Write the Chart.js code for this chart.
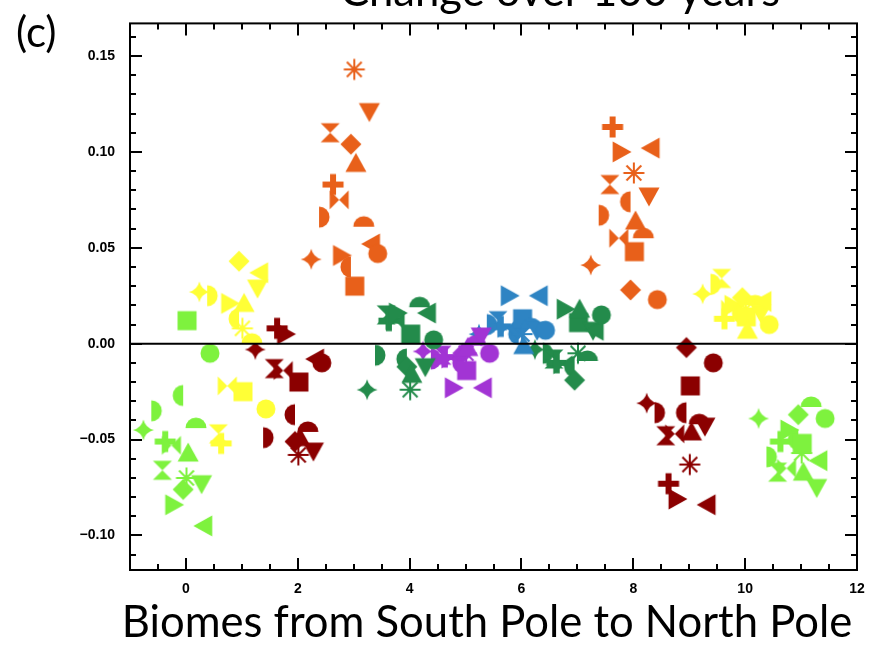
<!DOCTYPE html>
<html><head><meta charset="utf-8">
<script src="https://cdn.jsdelivr.net/npm/chart.js@4.4.1/dist/chart.umd.min.js"></script>
<style>html,body{margin:0;padding:0;background:#fff;}#wrap{width:877px;height:645px;position:relative;}</style>
</head><body><div id="wrap"><canvas id="c" width="877" height="645"></canvas></div>
<script>
// ---- data ----
const biomes = [0, 1, 2, 3, 4, 5, 6, 7, 8, 9, 10, 11];
const models = ['star4','rightHalf','hourglass','plus','bowtie','triRight','leftHalf','diamond','asterisk','square','triUp','topHalf','triDown','triLeft','circle'];
const modelOffsets = [-0.76,-0.62,-0.42,-0.37,-0.26,-0.22,-0.05,-0.05,0.01,0.02,0.04,0.18,0.28,0.32,0.43];
// values per biome, in the order of `models`
const biome0  = [-0.045,-0.035,-0.066,-0.051,-0.053,-0.084,-0.027,-0.076,-0.070, 0.012,-0.057,-0.044,-0.073,-0.095,-0.005];
const biome1  = [ 0.027, 0.025,-0.047,-0.052,-0.022, 0.021, 0.013, 0.043, 0.008,-0.025, 0.021, 0.000, 0.029, 0.037,-0.034];
const biome2  = [-0.003,-0.049,-0.013, 0.008,-0.014, 0.005,-0.037,-0.051,-0.058,-0.020,-0.049,-0.046,-0.056,-0.008,-0.010];
const biome3  = [ 0.044, 0.066, 0.110, 0.083, 0.075, 0.046, 0.040, 0.104, 0.143, 0.030, 0.094, 0.061, 0.121, 0.052, 0.047];
const biome4  = [-0.024,-0.006, 0.015, 0.012, 0.012, 0.016,-0.008,-0.012,-0.024, 0.005,-0.016, 0.019,-0.012, 0.016, 0.002];
const biome5  = [-0.004,-0.008,-0.006,-0.007,-0.008,-0.023,-0.010,-0.005,-0.005,-0.014,-0.002,-0.001, 0.004,-0.023,-0.005];
const biome6  = [ 0.005, 0.010, 0.012, 0.009, 0.008, 0.025, 0.005, 0.008, 0.005, 0.013,-0.001, 0.008, 0.007, 0.025, 0.007];
const biome7  = [-0.003,-0.005,-0.008,-0.010,-0.011, 0.018,-0.012,-0.019,-0.005, 0.011, 0.018,-0.009, 0.007, 0.007, 0.015];
const biome8  = [ 0.041, 0.067, 0.083, 0.113, 0.055, 0.100, 0.074, 0.028, 0.089, 0.048, 0.064, 0.055, 0.077, 0.102, 0.023];
const biome9  = [-0.031,-0.036,-0.048,-0.073,-0.047,-0.081,-0.036,-0.002,-0.063,-0.022,-0.046,-0.042,-0.043,-0.084,-0.010];
const biome10 = [ 0.026, 0.031, 0.034, 0.013, 0.018, 0.020, 0.016, 0.024, 0.018, 0.014, 0.007, 0.020, 0.016, 0.022, 0.010];
const biome11 = [-0.039,-0.059,-0.067,-0.051,-0.065,-0.045,-0.050,-0.037,-0.057,-0.052,-0.067,-0.033,-0.075,-0.061,-0.039];
const biomeValues = [biome0,biome1,biome2,biome3,biome4,biome5,biome6,biome7,biome8,biome9,biome10,biome11];
const xTickValues = [0, 2, 4, 6, 8, 10, 12];
const yTickValues = [-0.10, -0.05, 0.00, 0.05, 0.10, 0.15];
const chartTitle = 'Change over 100 years';
const panelLabel = '(c)';
const xTitle = 'Biomes from South Pole to North Pole';

// ---- styles ----
const LG='#7EF23E', YE='#FFFF36', DR='#8B0000', OR='#E8601A', GR='#238B4B', PU='#A234D4', BL='#2E84C3';
const biomeColors = [LG, YE, DR, OR, GR, PU, BL, GR, OR, DR, YE, LG];

function makeSymbol(kind, color) {
  const S = 28, c = document.createElement('canvas');
  c.width = S; c.height = S;
  const g = c.getContext('2d');
  g.translate(S/2, S/2);
  g.fillStyle = color; g.strokeStyle = color;
  const poly = pts => { g.beginPath(); g.moveTo(pts[0][0], pts[0][1]); for (let i=1;i<pts.length;i++) g.lineTo(pts[i][0], pts[i][1]); g.closePath(); g.fill(); };
  const r = 9.5, t = 10.5;
  switch (kind) {
    case 'circle': g.beginPath(); g.arc(0,0,r,0,Math.PI*2); g.fill(); break;
    case 'leftHalf': g.beginPath(); g.arc(0,0,t,Math.PI/2,Math.PI*1.5); g.closePath(); g.fill(); break;
    case 'rightHalf': g.beginPath(); g.arc(0,0,t,-Math.PI/2,Math.PI/2); g.closePath(); g.fill(); break;
    case 'topHalf': g.beginPath(); g.arc(0,0,t,Math.PI,Math.PI*2); g.closePath(); g.fill(); break;
    case 'square': g.fillRect(-r,-r,2*r,2*r); break;
    case 'diamond': poly([[0,-t],[t,0],[0,t],[-t,0]]); break;
    case 'triUp': poly([[0,-t],[t,t*0.8],[-t,t*0.8]]); break;
    case 'triDown': poly([[0,t],[t,-t*0.8],[-t,-t*0.8]]); break;
    case 'triRight': poly([[t,0],[-t*0.8,t],[-t*0.8,-t]]); break;
    case 'triLeft': poly([[-t,0],[t*0.8,t],[t*0.8,-t]]); break;
    case 'hourglass': poly([[-r,-r],[r,-r],[0,0]]); poly([[-r,r],[r,r],[0,0]]); break;
    case 'bowtie': poly([[-r,-r],[-r,r],[0,0]]); poly([[r,-r],[r,r],[0,0]]); break;
    case 'plus': g.fillRect(-t,-3,2*t,6); g.fillRect(-3,-t,6,2*t); break;
    case 'asterisk':
      g.lineWidth = 2; g.beginPath();
      for (let k=0;k<4;k++){ const a=k*Math.PI/4; g.moveTo(-t*Math.cos(a),-t*Math.sin(a)); g.lineTo(t*Math.cos(a),t*Math.sin(a)); }
      g.stroke(); break;
    case 'star4':
      g.beginPath(); g.moveTo(0,-t);
      g.quadraticCurveTo(2,-2,t,0); g.quadraticCurveTo(2,2,0,t);
      g.quadraticCurveTo(-2,2,-t,0); g.quadraticCurveTo(-2,-2,0,-t);
      g.closePath(); g.fill(); break;
  }
  return c;
}

const datasets = biomes.map((b, bi) => {
  const col = biomeColors[bi];
  return {
    label: 'Biome ' + b,
    data: biomeValues[bi].map((v, mi) => ({ x: b + modelOffsets[mi], y: v })),
    pointStyle: models.map(m => makeSymbol(m, col)),
    pointRadius: 10,
    backgroundColor: col,
    borderColor: col,
    showLine: false
  };
});

const frame = {
  id: 'frame',
  afterDatasetsDraw(chart) {
    const {ctx, chartArea: a, scales: {x, y}} = chart;
    ctx.save();
    ctx.strokeStyle = '#000'; ctx.lineWidth = 2;
    const y0 = y.getPixelForValue(0);
    ctx.beginPath(); ctx.moveTo(a.left, y0); ctx.lineTo(a.right, y0); ctx.stroke();
    ctx.strokeRect(a.left, a.top, a.right - a.left, a.bottom - a.top);
    ctx.beginPath();
    for (let i = -11; i <= 16; i++) {
      const py = Math.round(y.getPixelForValue(i / 100));
      const len = (i % 5 === 0) ? 12 : 6;
      ctx.moveTo(a.left, py); ctx.lineTo(a.left + len, py);
      ctx.moveTo(a.right, py); ctx.lineTo(a.right - len, py);
    }
    for (let i = -2; i <= 24; i++) {
      const px = Math.round(x.getPixelForValue(i / 2));
      const len = (i % 4 === 0) ? 12 : 6;
      ctx.moveTo(px, a.bottom); ctx.lineTo(px, a.bottom - len);
      ctx.moveTo(px, a.top); ctx.lineTo(px, a.top + len);
    }
    ctx.stroke();
    ctx.restore();
  },
  afterDraw(chart) {
    const ctx = chart.ctx;
    ctx.save();
    ctx.fillStyle = '#000';
    ctx.textBaseline = 'alphabetic';
    ctx.textAlign = 'left';
    ctx.font = '42px Lato';
    ctx.fillText(panelLabel, 16, 47);
    ctx.textAlign = 'center';
    ctx.font = '38px Lato';
    let w = ctx.measureText(xTitle).width;
    const size = 38 * 730 / w;
    ctx.font = size.toFixed(1) + 'px Lato';
    ctx.fillText(xTitle, 487, 637);
    ctx.fillText(chartTitle, 560, 6);
    ctx.restore();
  }
};

const tickFont = { family: 'Liberation Sans', size: 14, weight: 'bold' };

new Chart(document.getElementById('c'), {
  type: 'scatter',
  data: { datasets },
  options: {
    responsive: false,
    animation: false,
    devicePixelRatio: 1,
    events: [],
    layout: { padding: { left: 70, right: 20, top: 21, bottom: 0 } },
    plugins: { legend: { display: false }, tooltip: { enabled: false }, title: { display: false } },
    scales: {
      x: {
        type: 'linear', min: -1, max: 12,
        afterBuildTicks: s => { s.ticks = xTickValues.map(v => ({ value: v })); },
        afterFit: s => { s.height = 75; },
        grid: { display: false, drawTicks: false },
        border: { display: false },
        ticks: { color: '#000', font: tickFont, padding: 11, maxRotation: 0, autoSkip: false, callback: v => String(v) }
      },
      y: {
        type: 'linear', min: -0.118, max: 0.167,
        afterBuildTicks: s => { s.ticks = yTickValues.map(v => ({ value: v })); },
        afterFit: s => { s.width = 60; },
        grid: { display: false, drawTicks: false },
        border: { display: false },
        ticks: { color: '#000', font: tickFont, padding: 15, autoSkip: false,
          callback: v => (Math.abs(v) < 1e-9 ? '0.00' : (v < 0 ? '\u2212' + Math.abs(v).toFixed(2) : v.toFixed(2))) }
      }
    }
  },
  plugins: [frame]
});
</script>
</body></html>
